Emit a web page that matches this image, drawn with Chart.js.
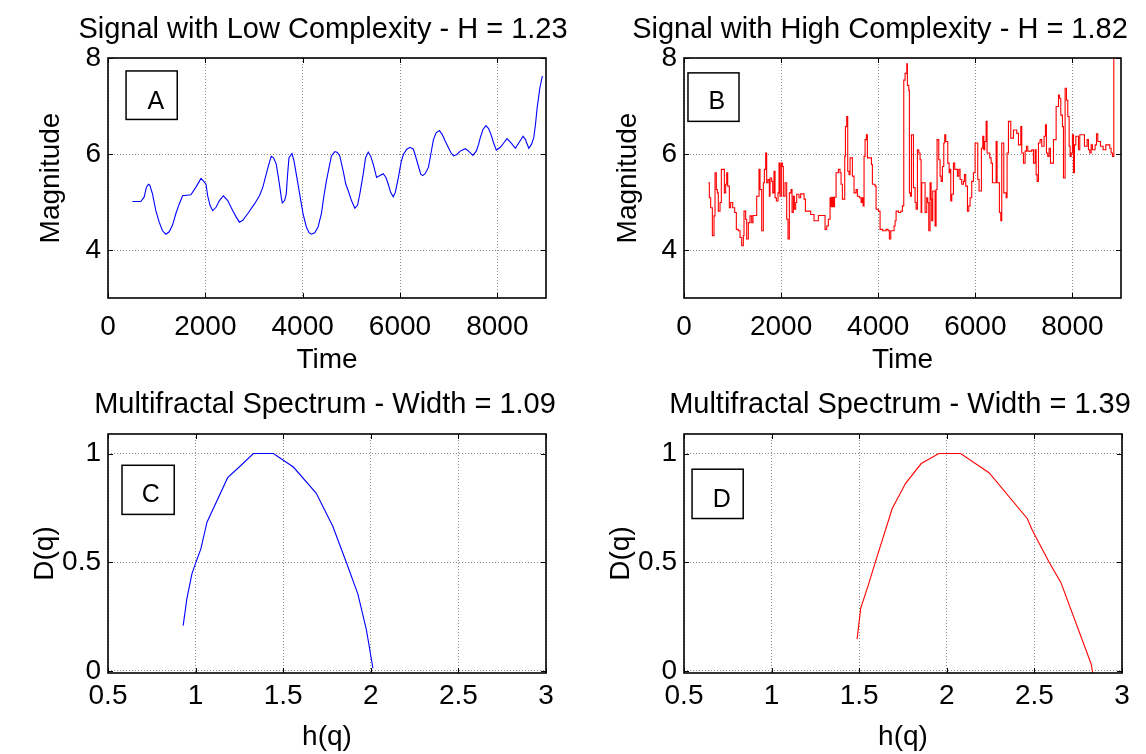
<!DOCTYPE html>
<html>
<head>
<meta charset="utf-8">
<script src="https://cdn.jsdelivr.net/npm/chart.js@4"></script>
<style>
  html, body { margin: 0; padding: 0; background: #fff; overflow: hidden; }
  #wrap { position: relative; width: 1146px; height: 754px; background: #fff; overflow: hidden; }
  canvas { position: absolute; }
</style>
</head>
<body>
<div id="wrap">
  <canvas id="cA" width="646" height="377" style="left:0;top:0"></canvas>
  <canvas id="cB" width="614" height="377" style="left:573px;top:0"></canvas>
  <canvas id="cC" width="650" height="377" style="left:0;top:377px"></canvas>
  <canvas id="cD" width="654" height="377" style="left:573px;top:377px"></canvas>
</div>
<script>
// ---------------- DATA ----------------
const titles = [
  'Signal with Low Complexity - H = 1.23',
  'Signal with High Complexity - H = 1.82',
  'Multifractal Spectrum - Width = 1.09',
  'Multifractal Spectrum - Width = 1.39'
];
const panelLetters = ['A', 'B', 'C', 'D'];
const timeTicks = [0, 2000, 4000, 6000, 8000];
const magTicks = [4, 6, 8];
const hTicks = [0.5, 1, 1.5, 2, 2.5, 3];
const dTicks = [0, 0.5, 1];

// Signal A (low complexity)
const sigA_t = [502, 673, 742, 790, 832, 859, 914, 983, 1052, 1120, 1189, 1258, 1326, 1395, 1464, 1533, 1704, 1807, 1911, 1959, 2014, 2048, 2096, 2151, 2220, 2289, 2371, 2460, 2564, 2632, 2701, 2770, 2873, 3010, 3113, 3182, 3251, 3306, 3354, 3402, 3457, 3512, 3560, 3581, 3629, 3663, 3691, 3718, 3780, 3821, 3869, 3938, 4007, 4076, 4131, 4179, 4248, 4316, 4385, 4433, 4488, 4543, 4591, 4660, 4715, 4763, 4832, 4887, 4935, 5003, 5072, 5127, 5175, 5244, 5292, 5347, 5395, 5450, 5519, 5588, 5656, 5711, 5759, 5808, 5862, 5904, 5966, 6021, 6069, 6138, 6206, 6275, 6309, 6378, 6426, 6467, 6515, 6584, 6632, 6687, 6742, 6811, 6866, 6928, 6997, 7045, 7100, 7168, 7237, 7340, 7409, 7498, 7567, 7615, 7650, 7705, 7766, 7821, 7869, 7924, 7979, 8062, 8130, 8199, 8282, 8371, 8440, 8529, 8577, 8646, 8701, 8749, 8783, 8818, 8873, 8921, 8941];
const sigA_v = [5.01, 5.01, 5.10, 5.31, 5.37, 5.35, 5.17, 4.82, 4.58, 4.40, 4.33, 4.38, 4.52, 4.76, 4.96, 5.13, 5.15, 5.31, 5.49, 5.44, 5.37, 5.13, 4.93, 4.82, 4.89, 5.03, 5.13, 5.03, 4.82, 4.69, 4.58, 4.62, 4.76, 4.96, 5.13, 5.31, 5.58, 5.79, 5.95, 5.92, 5.79, 5.44, 5.10, 4.98, 5.03, 5.17, 5.58, 5.92, 6.01, 5.86, 5.58, 5.17, 4.76, 4.48, 4.36, 4.33, 4.36, 4.48, 4.76, 5.10, 5.44, 5.72, 5.96, 6.05, 6.03, 5.96, 5.65, 5.37, 5.24, 5.03, 4.87, 4.93, 5.17, 5.58, 5.92, 6.04, 5.96, 5.79, 5.51, 5.55, 5.59, 5.51, 5.37, 5.20, 5.11, 5.20, 5.51, 5.82, 5.99, 6.10, 6.14, 6.10, 5.99, 5.75, 5.58, 5.55, 5.59, 5.72, 5.99, 6.30, 6.44, 6.49, 6.41, 6.27, 6.13, 6.03, 5.96, 5.99, 6.06, 6.11, 6.06, 5.97, 6.06, 6.20, 6.34, 6.51, 6.59, 6.53, 6.41, 6.23, 6.08, 6.14, 6.23, 6.32, 6.23, 6.12, 6.23, 6.37, 6.30, 6.12, 6.20, 6.34, 6.61, 6.96, 7.37, 7.61, 7.61];

// Signal B (high complexity), step signal
const sigB_t = [501, 522, 549, 584, 618, 639, 666, 687, 707, 742, 769, 831, 858, 879, 900, 934, 961, 1003, 1044, 1078, 1119, 1154, 1188, 1222, 1236, 1270, 1291, 1325, 1360, 1394, 1421, 1497, 1545, 1566, 1600, 1634, 1655, 1682, 1703, 1730, 1758, 1772, 1806, 1827, 1854, 1875, 1902, 1936, 1957, 1978, 2005, 2026, 2046, 2081, 2115, 2142, 2170, 2204, 2225, 2252, 2273, 2300, 2321, 2369, 2403, 2472, 2500, 2609, 2678, 2767, 2905, 2939, 2973, 3008, 3020, 3035, 3050, 3065, 3080, 3100, 3132, 3180, 3214, 3235, 3262, 3310, 3324, 3351, 3372, 3399, 3420, 3468, 3502, 3544, 3571, 3612, 3647, 3667, 3688, 3708, 3729, 3757, 3777, 3860, 3880, 3935, 3956, 4004, 4038, 4093, 4162, 4203, 4230, 4258, 4326, 4347, 4368, 4416, 4464, 4498, 4526, 4553, 4588, 4601, 4629, 4642, 4663, 4684, 4725, 4759, 4780, 4807, 4835, 4862, 4883, 4896, 4965, 4999, 5020, 5041, 5068, 5089, 5102, 5123, 5171, 5192, 5212, 5247, 5274, 5295, 5322, 5350, 5370, 5391, 5432, 5460, 5480, 5494, 5515, 5549, 5576, 5631, 5659, 5686, 5720, 5755, 5775, 5803, 5837, 5865, 5892, 5926, 5961, 5995, 6050, 6077, 6125, 6153, 6174, 6194, 6222, 6242, 6297, 6325, 6352, 6428, 6448, 6496, 6524, 6544, 6586, 6634, 6654, 6682, 6730, 6785, 6853, 6888, 6936, 6956, 6991, 7025, 7053, 7080, 7162, 7197, 7231, 7252, 7272, 7300, 7334, 7368, 7416, 7444, 7465, 7492, 7520, 7547, 7609, 7664, 7712, 7732, 7760, 7794, 7815, 7849, 7877, 7904, 7932, 7952, 7973, 8000, 8021, 8041, 8069, 8124, 8151, 8247, 8302, 8330, 8357, 8385, 8412, 8467, 8495, 8522, 8577, 8632, 8687, 8769, 8797, 8824, 8852];
const sigB_v = [5.40, 5.09, 4.88, 4.30, 4.71, 5.61, 5.26, 5.19, 4.81, 4.99, 5.68, 5.19, 5.37, 5.61, 5.33, 4.88, 4.99, 4.88, 4.78, 4.43, 4.40, 4.26, 4.09, 4.30, 4.81, 4.64, 4.23, 4.57, 4.71, 4.57, 4.72, 5.12, 5.68, 5.26, 4.40, 5.40, 5.68, 6.02, 5.40, 5.47, 5.12, 5.50, 5.43, 5.19, 5.64, 5.09, 5.02, 5.19, 5.81, 5.12, 5.81, 5.74, 5.12, 5.40, 4.64, 4.23, 5.19, 5.26, 4.78, 5.12, 4.85, 4.99, 5.16, 5.09, 5.17, 5.06, 4.81, 4.74, 4.61, 4.72, 4.43, 4.50, 4.64, 5.09, 4.90, 5.10, 4.90, 5.10, 4.90, 5.10, 5.61, 5.68, 5.61, 5.37, 5.06, 5.95, 6.57, 6.78, 5.64, 5.57, 5.92, 5.54, 5.19, 5.26, 5.12, 5.09, 4.99, 5.09, 4.92, 5.95, 6.30, 6.40, 5.92, 5.78, 5.37, 5.33, 4.85, 4.81, 4.43, 4.40, 4.43, 4.40, 4.23, 4.40, 4.50, 4.61, 4.81, 4.78, 4.81, 4.92, 7.54, 7.68, 7.88, 7.43, 7.33, 5.19, 5.12, 6.40, 5.30, 4.99, 4.85, 6.09, 6.02, 5.88, 4.78, 5.40, 4.78, 5.09, 4.99, 4.40, 5.40, 5.06, 4.61, 5.23, 4.50, 5.26, 6.30, 5.88, 5.54, 5.43, 5.74, 6.23, 6.40, 6.26, 5.81, 5.61, 5.68, 5.02, 5.16, 5.81, 5.68, 5.54, 5.68, 5.47, 5.37, 5.43, 5.57, 5.33, 4.81, 4.92, 5.09, 5.43, 5.61, 6.23, 5.47, 5.23, 6.12, 6.37, 6.09, 6.26, 6.68, 6.02, 5.92, 5.81, 5.40, 6.26, 5.40, 4.78, 4.61, 6.23, 5.19, 5.09, 6.02, 6.68, 6.33, 6.50, 6.43, 6.19, 6.57, 6.02, 5.81, 6.06, 6.16, 6.06, 6.09, 5.81, 6.09, 5.57, 5.43, 6.23, 6.30, 6.16, 6.37, 6.61, 6.02, 5.95, 6.12, 5.81, 6.30, 6.99, 7.23, 7.16, 6.81, 6.57, 5.50, 7.37, 7.12, 6.78, 6.16, 5.95, 6.02, 6.40, 5.61, 6.19, 6.37, 6.09, 6.40, 6.16, 6.30, 6.09, 6.02, 6.19, 6.09, 6.19, 6.42, 6.26, 6.16, 6.09, 6.19, 6.12, 6.02, 5.95, 8.00];

// Multifractal spectrum C
const specC_h = [0.929, 0.950, 0.979, 1.002, 1.030, 1.065, 1.183, 1.249, 1.330, 1.444, 1.558, 1.688, 1.783, 1.860, 1.926, 1.974, 1.984, 2.012];
const specC_D = [0.208, 0.331, 0.446, 0.500, 0.561, 0.684, 0.889, 0.938, 1.000, 1.000, 0.938, 0.818, 0.665, 0.500, 0.354, 0.192, 0.146, 0.012];

// Multifractal spectrum D
const specD_h = [1.488, 1.509, 1.554, 1.589, 1.688, 1.764, 1.854, 1.955, 2.079, 2.241, 2.460, 2.489, 2.584, 2.651, 2.823, 2.833];
const specD_D = [0.146, 0.289, 0.400, 0.492, 0.746, 0.862, 0.954, 1.000, 1.000, 0.912, 0.700, 0.646, 0.500, 0.407, 0.034, -0.010];

// ---------------- RENDERING ----------------
const FONT = '"Liberation Sans", Arial, Helvetica, sans-serif';

const matlabAxes = {
  id: 'matlabAxes',
  afterDraw(chart, args, opts) {
    const {ctx, chartArea: a} = chart;
    const xs = chart.scales.x, ys = chart.scales.y;
    ctx.save();
    ctx.strokeStyle = '#000';
    ctx.lineWidth = 1;
    const L = 5;
    ctx.beginPath();
    xs.ticks.forEach(t => {
      const p = Math.round(xs.getPixelForValue(t.value)) + 0.5;
      ctx.moveTo(p, a.bottom); ctx.lineTo(p, a.bottom - L);
      ctx.moveTo(p, a.top); ctx.lineTo(p, a.top + L);
    });
    ys.ticks.forEach(t => {
      const p = Math.round(ys.getPixelForValue(t.value)) + 0.5;
      ctx.moveTo(a.left, p); ctx.lineTo(a.left + L, p);
      ctx.moveTo(a.right, p); ctx.lineTo(a.right - L, p);
    });
    ctx.stroke();
    ctx.lineWidth = 1.6;
    ctx.strokeRect(a.left, a.top, a.right - a.left, a.bottom - a.top);
    const b = opts.box;
    if (b) {
      const x0 = xs.getPixelForValue(b.x0), x1 = xs.getPixelForValue(b.x1);
      const y0 = ys.getPixelForValue(b.y0), y1 = ys.getPixelForValue(b.y1);
      ctx.fillStyle = '#fff';
      ctx.fillRect(x0, y0, x1 - x0, y1 - y0);
      ctx.lineWidth = 1.5;
      ctx.strokeRect(x0, y0, x1 - x0, y1 - y0);
      ctx.fillStyle = '#000';
      ctx.font = '25px ' + FONT;
      ctx.textAlign = 'center';
      ctx.textBaseline = 'middle';
      ctx.fillText(b.text, xs.getPixelForValue(b.tx), ys.getPixelForValue(b.ty));
    }
    ctx.restore();
  }
};

function makeChart(id, cfg) {
  const canvas = document.getElementById(id);
  const pts = cfg.xs.map((v, i) => ({x: v, y: cfg.ys[i]}));
  const rightSpace = canvas.width - cfg.areaRight;
  return new Chart(canvas, {
    type: 'line',
    data: { datasets: [{
      data: pts,
      borderColor: cfg.color,
      borderWidth: 1.1,
      pointRadius: 0,
      fill: false,
      tension: 0,
      stepped: cfg.stepped || false,
      xAxisID: 'x',
      yAxisID: 'y'
    }]},
    options: {
      responsive: false,
      animation: false,
      devicePixelRatio: 1,
      layout: { padding: 0 },
      plugins: {
        legend: { display: false },
        tooltip: { enabled: false },
        title: {
          display: true, text: cfg.title, fullSize: true, color: '#000',
          font: { family: FONT, size: 29, weight: 'normal', lineHeight: 1 },
          padding: { top: cfg.titleTop, bottom: cfg.areaTop - 29 - cfg.titleTop }
        },
        matlabAxes: { box: cfg.box }
      },
      scales: {
        x: {
          type: 'linear', position: 'bottom',
          min: cfg.xmin, max: cfg.xmax,
          afterBuildTicks: s => { s.ticks = cfg.xticks.map(v => ({value: v})); },
          afterFit: s => { s.height = 377 - cfg.areaBottom; },
          ticks: { color: '#000', font: { family: FONT, size: 28 }, padding: cfg.xTickPad, maxRotation: 0, autoSkip: false, callback: v => String(v) },
          grid: { color: '#8c8c8c', lineWidth: 1, drawTicks: false },
          border: { display: false, dash: [1, 2] },
          title: { display: true, text: cfg.xlabel, color: '#000', font: { family: FONT, size: 28, lineHeight: 1.2 }, padding: { top: 0, bottom: cfg.xTitlePad } }
        },
        y: {
          type: 'linear', position: 'left',
          min: cfg.ymin, max: cfg.ymax,
          afterBuildTicks: s => { s.ticks = cfg.yticks.map(v => ({value: v})); },
          afterFit: s => { s.width = cfg.areaLeft; },
          ticks: { color: '#000', font: { family: FONT, size: 28 }, padding: 7, autoSkip: false, callback: v => String(v) },
          grid: { color: '#8c8c8c', lineWidth: 1, drawTicks: false },
          border: { display: false, dash: [1, 2] },
          title: { display: true, text: cfg.ylabel, color: '#000', font: { family: FONT, size: 28, lineHeight: 1.2 }, padding: { top: cfg.yTitlePad, bottom: 0 } }
        },
        spacer: {
          type: 'linear', position: 'right', display: true,
          min: 0, max: 1,
          afterFit: s => { s.width = rightSpace; },
          ticks: { display: false },
          grid: { display: false, drawTicks: false },
          border: { display: false },
          title: { display: false }
        }
      }
    },
    plugins: [matlabAxes]
  });
}

makeChart('cA', {
  xs: sigA_t, ys: sigA_v, color: '#0000ff', title: titles[0],
  xmin: 0, xmax: 9000, ymin: 3, ymax: 8, xticks: timeTicks, yticks: magTicks,
  xlabel: 'Time', ylabel: 'Magnitude',
  areaLeft: 108, areaRight: 546, areaTop: 58, areaBottom: 298, titleTop: 15,
  xTickPad: 12, xTitlePad: 0, yTitlePad: 34,
  box: { x0: 371, x1: 1423, y0: 7.73, y1: 6.72, tx: 984, ty: 7.09, text: panelLetters[0] }
});
makeChart('cB', {
  xs: sigB_t, ys: sigB_v, color: '#ff0000', stepped: 'before', title: titles[1],
  xmin: 0, xmax: 9000, ymin: 3, ymax: 8, xticks: timeTicks, yticks: magTicks,
  xlabel: 'Time', ylabel: 'Magnitude',
  areaLeft: 111, areaRight: 548, areaTop: 58, areaBottom: 298, titleTop: 15,
  xTickPad: 12, xTitlePad: 0, yTitlePad: 38,
  box: { x0: 82, x1: 1133, y0: 7.69, y1: 6.68, tx: 674, ty: 7.09, text: panelLetters[1] }
});
makeChart('cC', {
  xs: specC_h, ys: specC_D, color: '#0000ff', title: titles[2],
  xmin: 0.5, xmax: 3, ymin: -0.01, ymax: 1.09, xticks: hTicks, yticks: dTicks,
  xlabel: 'h(q)', ylabel: 'D(q)',
  areaLeft: 108, areaRight: 546, areaTop: 57, areaBottom: 296, titleTop: 13,
  xTickPad: 6, xTitlePad: 0, yTitlePad: 28,
  box: { x0: 0.580, x1: 0.878, y0: 0.946, y1: 0.72, tx: 0.744, ty: 0.808, text: panelLetters[2] }
});
makeChart('cD', {
  xs: specD_h, ys: specD_D, color: '#ff0000', title: titles[3],
  xmin: 0.5, xmax: 3, ymin: -0.01, ymax: 1.09, xticks: hTicks, yticks: dTicks,
  xlabel: 'h(q)', ylabel: 'D(q)',
  areaLeft: 111, areaRight: 549, areaTop: 57, areaBottom: 296, titleTop: 13,
  xTickPad: 6, xTitlePad: 0, yTitlePad: 31,
  box: { x0: 0.546, x1: 0.838, y0: 0.928, y1: 0.701, tx: 0.716, ty: 0.788, text: panelLetters[3] }
});
</script>
</body>
</html>
